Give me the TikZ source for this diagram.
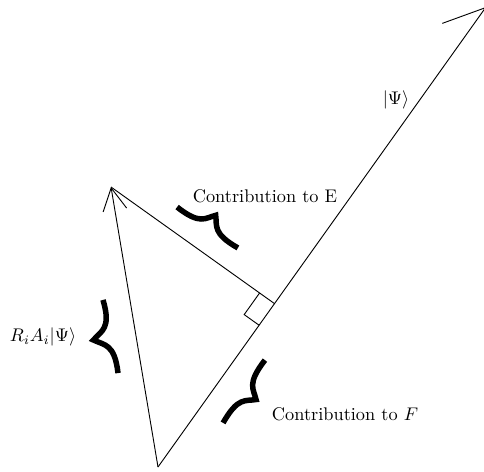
\documentclass[tikz,border=0pt]{standalone}
\usepackage{xcolor}
\usepackage{amsmath,amssymb}
\usepackage{tikz}
\usetikzlibrary{arrows.meta,positioning,calc}

\tikzset{
  brc/.pic={
    \draw[x=1pt, y=1pt, line width=3pt]
      (-1,0) .. controls (-0.2,-0.15) and (-0.2,0.45) .. (0,1)
      .. controls (0.2,0.45) and (0.2,-0.15) .. (1,0);
  }
}

\begin{document}
\begin{tikzpicture}[x=0.0192cm, y=-0.0192cm, line width=0.5pt]
    \clip (0,0) rectangle (484,472);
    \coordinate (O) at (158,467);
    \coordinate (P) at (486,7);
    \coordinate (A) at (111,187);
    \coordinate (F) at ($(O)!(A)!(P)$);
    \draw[-{Straight Barb[length=20.7pt, width=28.5pt]}] (O) -- (P);
    \draw[-{Straight Barb[length=12.2pt, width=13pt]}] (O) -- (A);
    \draw (A) -- (F);
    % right angle
    \coordinate (F1) at ($(F)!10pt!(A)$);
    \coordinate (F2) at ($(F)!14.5pt!(O)$);
    \draw (F1) -- ($(F1)+(F2)-(F)$) -- (F2);
    % braces
    \pic[rotate=101.6, xscale=20.4, yscale=9.5] at (110.5,336.5) {brc};
    \pic[rotate=-33.9, xscale=20, yscale=8] at (207.5,227.5) {brc};
    \pic[rotate=-123.7, xscale=20.6, yscale=7.9] at (244,391.5) {brc};
    \node (PSI) at (396,100) {$|\Psi\rangle$};
    \node (CE) at (265,196) {Contribution to E};
    \node (RA) at (43,337) {$R_iA_i|\Psi\rangle$};
    \node (CF) at (345,414) {Contribution to $F$};
\end{tikzpicture}
\end{document}
